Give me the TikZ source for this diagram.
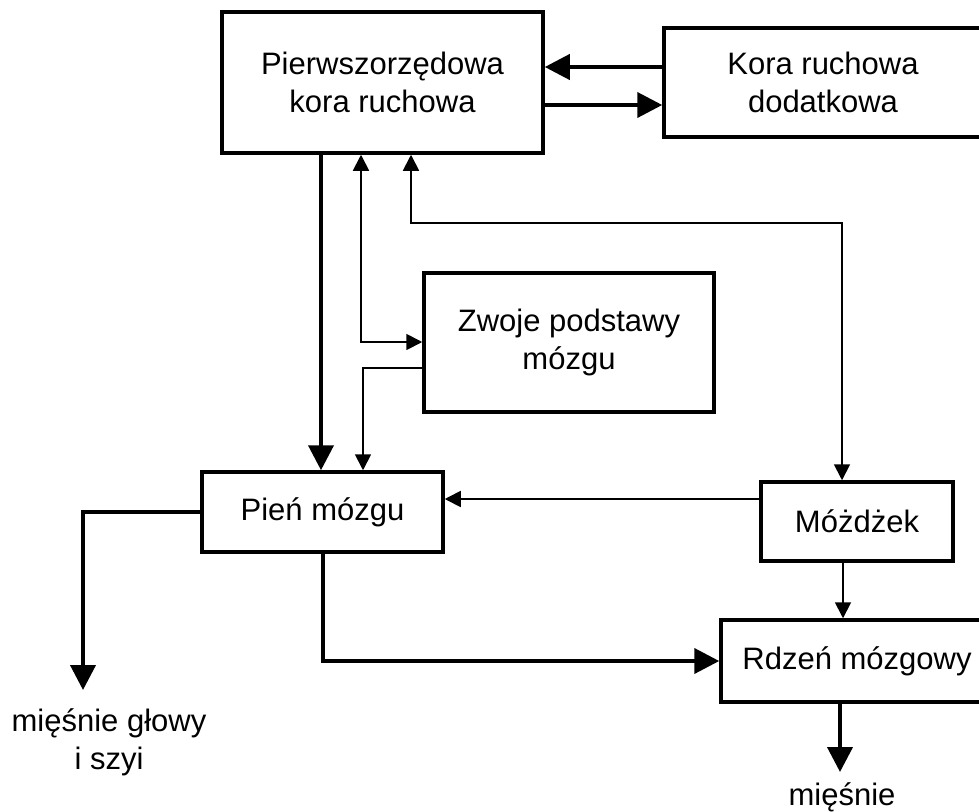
\documentclass[tikz,border=0pt]{standalone}
\usepackage{fontspec}
\setmainfont{Liberation Sans}
\usetikzlibrary{arrows.meta}
\begin{document}
\begin{tikzpicture}[x=1pt,y=-1pt,
 box/.style={draw, line width=3.5pt, inner sep=0pt, align=center, font=\fontsize{31}{38}\selectfont},
 thickarr/.style={line width=4pt, -{Triangle[length=25pt,width=25pt]}},
 thinarr/.style={line width=1.8pt, -{Triangle[length=16pt,width=16pt]}},
 thinboth/.style={line width=1.8pt, {Triangle[length=16pt,width=16pt]}-{Triangle[length=16pt,width=16pt]}},
 lbl/.style={inner sep=0pt, align=center, font=\fontsize{31}{38}\selectfont}]
\useasboundingbox (0,0) rectangle (979,811);
\clip (0,0) rectangle (979,811);
\node[box, minimum width=321pt, minimum height=141pt] (pk) at (382.5,82.5) {Pierwszorzędowa\\kora ruchowa};
\node[box, minimum width=318pt, minimum height=109pt] (kd) at (823,82.5) {Kora ruchowa\\dodatkowa};
\node[box, minimum width=290pt, minimum height=139pt] (zp) at (569,342.5) {Zwoje podstawy\\mózgu};
\node[box, minimum width=241pt, minimum height=80pt] (pm) at (322.5,512) {Pień mózgu};
\node[box, minimum width=192pt, minimum height=79pt] (md) at (857,521.5) {Móżdżek};
\node[box, minimum width=272pt, minimum height=82pt] (rd) at (857,661) {Rdzeń mózgowy};
\node[lbl, anchor=north] (mg) at (109,708) {mięśnie głowy\\i szyi};
\node[lbl, anchor=base] (mr) at (842,805) {mięśnie};
\coordinate (e1) at (83,690);
\coordinate (e2) at (840,772);
\coordinate (b1) at (842,223);
% cortex links
\draw[thickarr] (kd.west |- 0,67) -- (pk.east |- 0,67);
\draw[thickarr] (pk.east |- 0,105) -- (kd.west |- 0,105);
% cortex to brainstem
\draw[thickarr] (pk.south -| 321,0) -- (pm.north -| 321,0);
% cortex <-> basal ganglia
\draw[thinboth] (pk.south -| 361,0) |- (zp.west |- 0,342);
% basal ganglia to brainstem
\draw[thinarr] (zp.west |- 0,368) -| (pm.north -| 363,0);
% cortex <-> cerebellum
\draw[thinboth] (pk.south -| 411,0) |- (b1) -- (md.north -| b1);
% cerebellum to brainstem
\draw[thinarr] (md.west |- 0,499) -- (pm.east |- 0,499);
% cerebellum to spinal cord
\draw[thinarr] (md.south -| 843,0) -- (rd.north -| 843,0);
% brainstem to spinal cord
\draw[thickarr] (pm.south) |- (rd.west);
% outputs
\draw[thickarr] (pm.west) -| (e1);
\draw[thickarr] (rd.south -| e2) -- (e2);
\end{tikzpicture}
\end{document}
